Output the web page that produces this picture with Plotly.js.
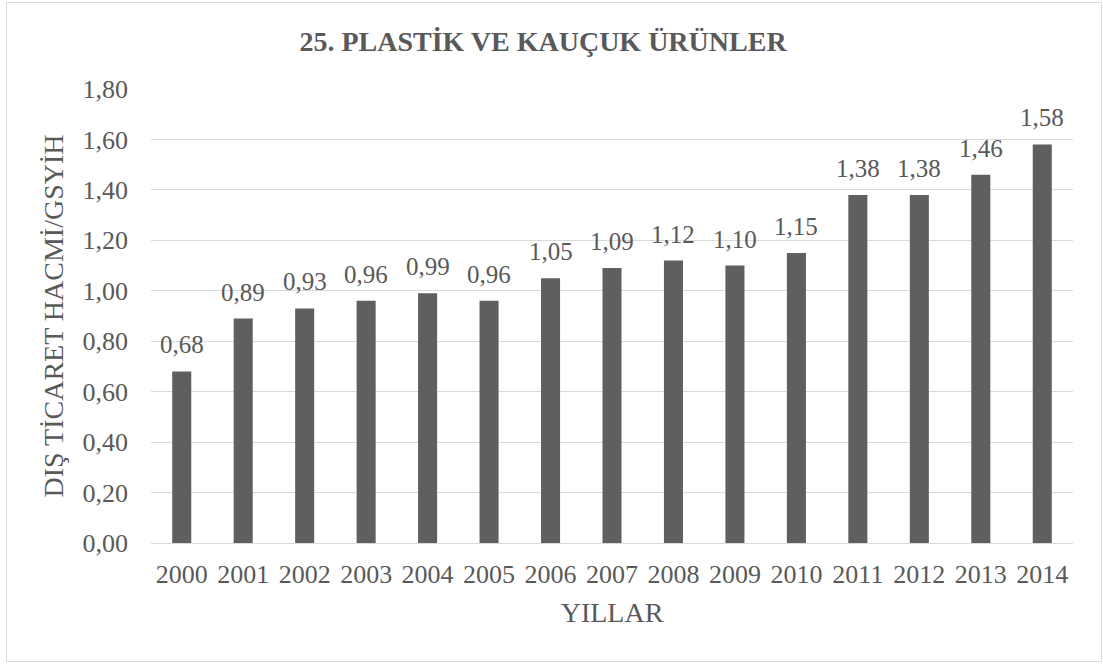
<!DOCTYPE html>
<html>
<head>
<meta charset="utf-8">
<script src="https://cdn.plot.ly/plotly-3.0.1.min.js"></script>
<style>
  html, body { margin: 0; padding: 0; background: #ffffff; }
  #wrap { position: relative; width: 1103px; height: 664px; }
  #chart { position: absolute; left: 0; top: 0; width: 1103px; height: 664px; }
  #frame { position: absolute; left: 6px; top: 2px; width: 1094px; height: 658px; border: 1px solid #d9d9d9; pointer-events: none; }
</style>
</head>
<body>
<div id="wrap">
  <div id="chart"></div>
  <div id="frame"></div>
</div>
<script>
const years = ["2000","2001","2002","2003","2004","2005","2006","2007","2008","2009","2010","2011","2012","2013","2014"];
const values = [0.68, 0.89, 0.93, 0.96, 0.99, 0.96, 1.05, 1.09, 1.12, 1.10, 1.15, 1.38, 1.38, 1.46, 1.58];
const chartTitle = "25. PLASTİK VE KAUÇUK ÜRÜNLER";
const xTitle = "YILLAR";
const yTitle = "DIŞ TİCARET HACMİ/GSYİH";

const serif = 'Liberation Serif, Times New Roman, serif';
const textColor = '#595959';

const fmt = v => v.toFixed(2).replace('.', ',');

const annotations = years.map((y, i) => ({
  x: i, y: values[i], xref: 'x', yref: 'y',
  text: fmt(values[i]), showarrow: false,
  yanchor: 'bottom', yshift: 11,
  font: {family: serif, size: 25, color: textColor}
}));

const trace = {
  type: 'bar',
  x: years,
  y: values,
  marker: {color: '#5f5f5f'},
  hoverinfo: 'x+y'
};

const layout = {
  width: 1103, height: 664,
  margin: {l: 151, r: 30, t: 89, b: 121},
  paper_bgcolor: 'rgba(0,0,0,0)',
  plot_bgcolor: '#ffffff',
  separators: ',.',
  bargap: 0.69,
  showlegend: false,
  font: {family: serif, color: textColor},
  title: {
    text: '<b>' + chartTitle + '</b>',
    font: {family: serif, size: 28, color: textColor},
    x: 543 / 1103, xanchor: 'center', xref: 'container',
    y: 1 - 41 / 664, yref: 'container', yanchor: 'middle'
  },
  xaxis: {
    type: 'category',
    range: [-0.5, years.length - 0.5],
    autorange: false,
    showgrid: false,
    showline: true, linecolor: '#d9d9d9', linewidth: 1,
    ticks: '',
    ticklabelstandoff: 8,
    tickfont: {family: serif, size: 26, color: textColor},
    title: {text: xTitle, font: {family: serif, size: 28, color: textColor}, standoff: 14}
  },
  yaxis: {
    range: [0, 1.8],
    autorange: false,
    dtick: 0.2,
    tick0: 0,
    tickformat: '.2f',
    showgrid: true, gridcolor: '#d9d9d9', gridwidth: 1,
    zeroline: false,
    ticks: '',
    ticklabelstandoff: 22,
    tickfont: {family: serif, size: 26, color: textColor},
    title: {text: yTitle, font: {family: serif, size: 28, color: textColor}, standoff: 10}
  },
  annotations: annotations
};

Plotly.newPlot('chart', [trace], layout, {displayModeBar: false, staticPlot: true});
</script>
</body>
</html>
